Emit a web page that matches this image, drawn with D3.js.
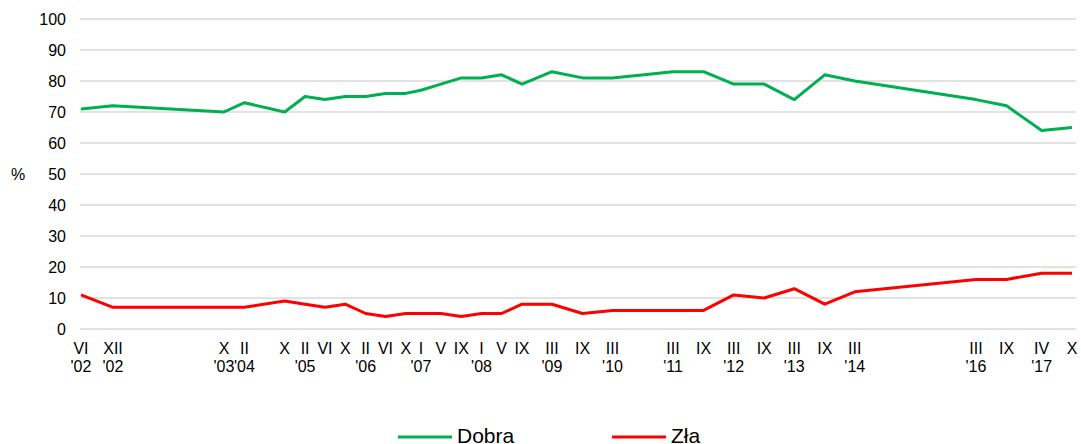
<!DOCTYPE html>
<html>
<head>
<meta charset="utf-8">
<script src="https://cdn.jsdelivr.net/npm/d3@7"></script>
<style>
  body { margin: 0; background: #fff; }
  text { font-family: "Liberation Sans", Arial, sans-serif; fill: #000; }
</style>
</head>
<body>
<svg id="chart"></svg>
<script>
const surveyDates = [
  "2002-06", "2002-12", "2003-10", "2004-02", "2004-10", "2005-02", "2005-06",
  "2005-10", "2006-02", "2006-06", "2006-10", "2007-01", "2007-05", "2007-09",
  "2008-01", "2008-05", "2008-09", "2009-03", "2009-09", "2010-03", "2011-03",
  "2011-09", "2012-03", "2012-09", "2013-03", "2013-09", "2014-03", "2016-03",
  "2016-09", "2017-04", "2017-10"
];
const monthLabels = [
  "VI", "XII", "X", "II", "X", "II", "VI", "X", "II", "VI", "X", "I", "V", "IX",
  "I", "V", "IX", "III", "IX", "III", "III", "IX", "III", "IX", "III", "IX", "III",
  "III", "IX", "IV", "X"
];
const yearLabels = [
  "'02", "'02", "'03", "'04", "", "'05", "", "", "'06", "", "", "'07", "", "",
  "'08", "", "", "'09", "", "'10", "'11", "", "'12", "", "'13", "", "'14",
  "'16", "", "'17", ""
];
const dobra = [
  71, 72, 70, 73, 70, 75, 74, 75, 75, 76, 76, 77, 79, 81, 81, 82, 79, 83, 81, 81,
  83, 83, 79, 79, 74, 82, 80, 74, 72, 64, 65
];
const zla = [
  11, 7, 7, 7, 9, 8, 7, 8, 5, 4, 5, 5, 5, 4, 5, 5, 8, 8, 5, 6,
  6, 6, 11, 10, 13, 8, 12, 16, 16, 18, 18
];
const yTicks = [0, 10, 20, 30, 40, 50, 60, 70, 80, 90, 100];

const width = 1081;
const height = 444;
const parse = d3.timeParse("%Y-%m");
const dates = surveyDates.map(parse);

const svg = d3.select("#chart").attr("width", width).attr("height", height);

// axis is not linear in time before X '03, so the scale is piecewise
const x = d3
  .scaleTime()
  .domain([dates[0], dates[1], dates[2], dates[dates.length - 1]])
  .range([81, 113, 224, 1072]);

const y = d3.scaleLinear().domain([0, 100]).range([329, 19]);

svg
  .selectAll(".grid")
  .data(yTicks)
  .enter()
  .append("line")
  .attr("x1", 80)
  .attr("x2", 1076)
  .attr("y1", (d) => y(d))
  .attr("y2", (d) => y(d))
  .attr("stroke", "#d9d9d9")
  .attr("stroke-width", 1.3);

svg
  .selectAll(".y-label")
  .data(yTicks)
  .enter()
  .append("text")
  .attr("x", 66)
  .attr("y", (d) => y(d))
  .attr("text-anchor", "end")
  .attr("dominant-baseline", "central")
  .attr("font-size", "16px")
  .text((d) => d);

svg
  .append("text")
  .attr("x", 18)
  .attr("y", y(50))
  .attr("text-anchor", "middle")
  .attr("dominant-baseline", "central")
  .attr("font-size", "16px")
  .text("%");

svg
  .selectAll(".month-label")
  .data(dates)
  .enter()
  .append("text")
  .attr("x", (d) => x(d))
  .attr("y", 354)
  .attr("text-anchor", "middle")
  .attr("font-size", "16px")
  .text((d, i) => monthLabels[i]);

svg
  .selectAll(".year-label")
  .data(dates)
  .enter()
  .append("text")
  .attr("x", (d) => x(d))
  .attr("y", 372)
  .attr("text-anchor", "middle")
  .attr("font-size", "16px")
  .text((d, i) => yearLabels[i]);

const series = [
  {name: "Dobra", values: dobra, color: "#00b050"},
  {name: "Zła", values: zla, color: "#ff0000"},
];

const line = d3
  .line()
  .x((d, i) => x(dates[i]))
  .y((d) => y(d));

svg
  .selectAll(".series")
  .data(series)
  .enter()
  .append("path")
  .attr("d", (d) => line(d.values))
  .attr("fill", "none")
  .attr("stroke", (d) => d.color)
  .attr("stroke-width", 3)
  .attr("stroke-linejoin", "round");

// Legend
const legendX = [398, 612];
const legend = svg
  .selectAll(".legend")
  .data(series)
  .enter()
  .append("g")
  .attr("transform", (d, i) => `translate(${legendX[i]},437)`);

legend
  .append("line")
  .attr("x1", 0)
  .attr("x2", 54)
  .attr("stroke", (d) => d.color)
  .attr("stroke-width", 3);

legend
  .append("text")
  .attr("x", 59)
  .attr("y", 6)
  .attr("font-size", "21px")
  .text((d) => d.name);
</script>
</body>
</html>
